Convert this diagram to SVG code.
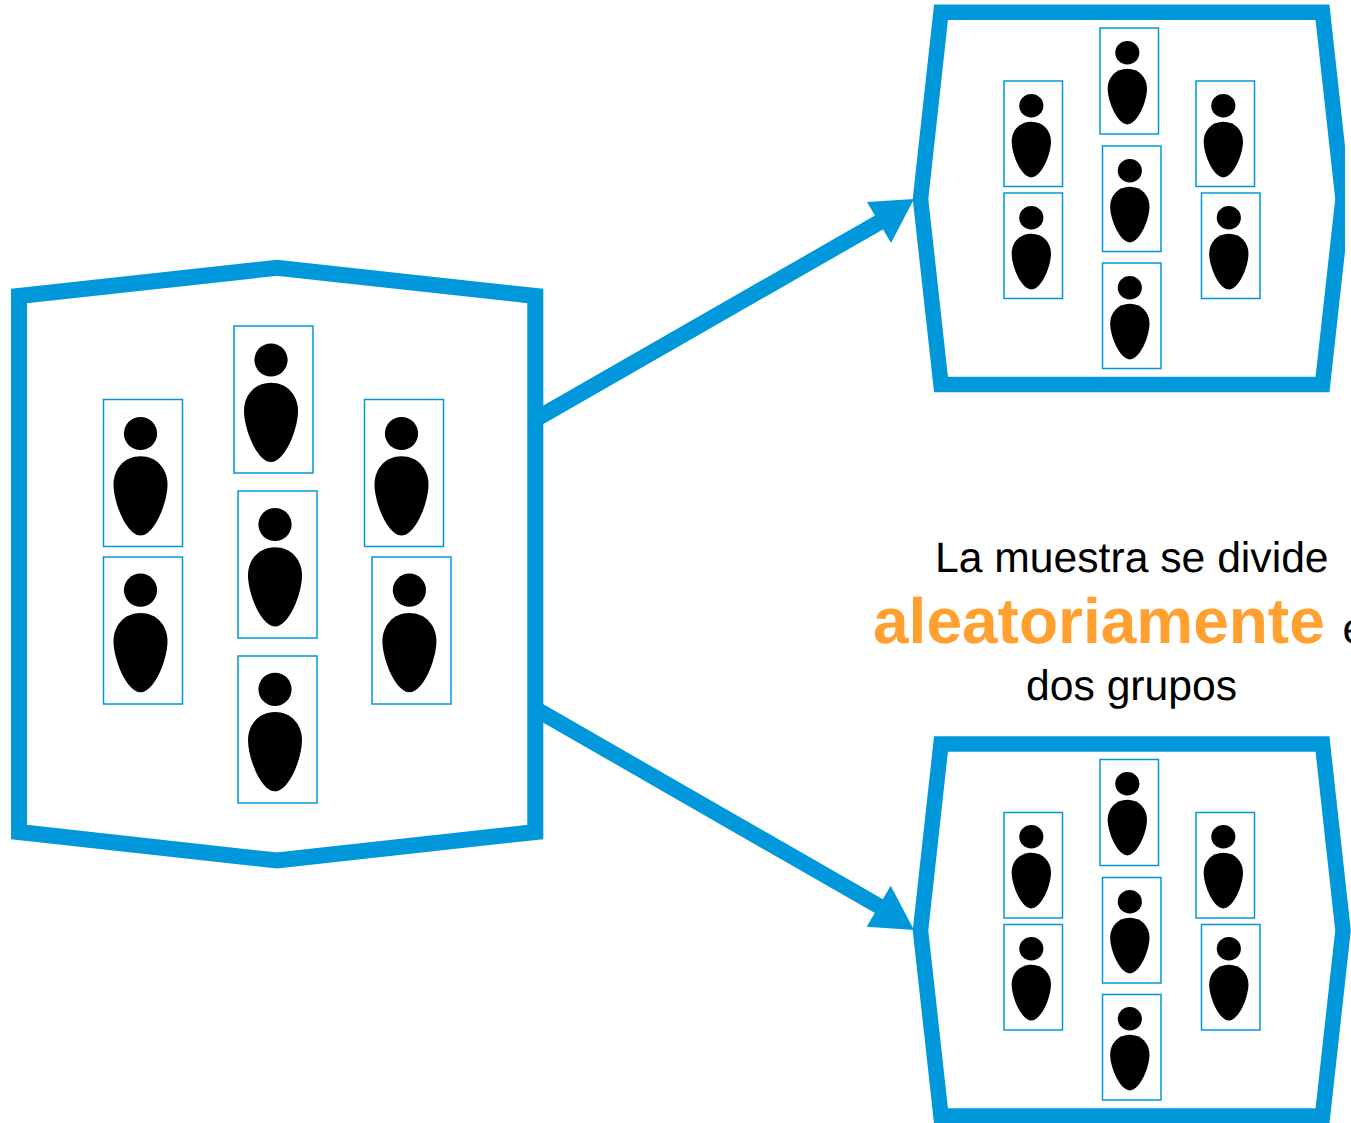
<svg xmlns="http://www.w3.org/2000/svg" width="1351" height="1123" viewBox="0 0 1351 1123">
<style>
.hex{fill:#fff;stroke:#0098DB;stroke-width:15.5;stroke-linejoin:miter;stroke-miterlimit:10}
.big{stroke-width:16}
.box{fill:#fff;stroke:#0098DB;stroke-width:1.5}
.shaft{fill:none;stroke:#0098DB;stroke-width:16}
.head{fill:#0098DB}
.t{font-family:"Liberation Sans",Arial,sans-serif;font-size:42.67px;fill:#000;text-rendering:geometricPrecision}
.b{font-weight:700;font-size:64px;fill:#FFA030}
.sp{font-weight:700;font-size:64px}
</style>
<defs>
<g id="p">
<circle cx="37" cy="34" r="16.6"/>
<path d="M37 56.7C53 56.7 64 69 64 85C64 103 51 136 37 136C23 136 10 103 10 85C10 69 21 56.7 37 56.7Z"/>
</g>
<g id="s"><use href="#p" transform="translate(.4 .9) scale(.7278 .7025)"/></g>
<clipPath id="edge"><rect x="0" y="0" width="1345" height="1123"/></clipPath>
</defs>
<rect width="1351" height="1123" fill="#fff"/>
<g id="connectors">
<path class="shaft" d="M536 419L885 219"/>
<polygon class="head" points="914,199 867,202 891,243"/>
<path class="shaft" d="M536 709.3L885 909.6"/>
<polygon class="head" points="914,930 866.7,926.7 890.7,885.7"/>
</g>
<g id="population">
<polygon class="hex big" points="19,296 277,267.8 535.3,296 535.3,832 277,860.5 19,832"/>
<g id="pop-1"><rect class="box" x="103.5" y="399.5" width="79" height="147"/><use href="#p" x="103.5" y="399.5"/></g>
<g id="pop-2"><rect class="box" x="234" y="326" width="79" height="147"/><use href="#p" x="234" y="326"/></g>
<g id="pop-3"><rect class="box" x="364.5" y="399.5" width="79" height="147"/><use href="#p" x="364.5" y="399.5"/></g>
<g id="pop-4"><rect class="box" x="103.5" y="557" width="79" height="147"/><use href="#p" x="103.5" y="556.2"/></g>
<g id="pop-5"><rect class="box" x="238" y="491" width="79" height="147"/><use href="#p" x="238" y="490.5"/></g>
<g id="pop-6"><rect class="box" x="372" y="557" width="79" height="147"/><use href="#p" x="372.4" y="556.2"/></g>
<g id="pop-7"><rect class="box" x="238" y="656" width="79" height="147"/><use href="#p" x="238" y="655.3"/></g>
</g>
<g id="group-a">
<polygon class="hex" clip-path="url(#edge)" points="941,12.3 1322.5,12.3 1343,199 1322.5,384.5 941,384.5 920.5,199"/>
<g id="a-1"><rect class="box" x="1004" y="81" width="58.5" height="105.5"/><use href="#s" x="1004" y="81"/></g>
<g id="a-2"><rect class="box" x="1100" y="28" width="58.5" height="106"/><use href="#s" x="1100" y="28"/></g>
<g id="a-3"><rect class="box" x="1196" y="81" width="58.5" height="105.5"/><use href="#s" x="1196" y="81"/></g>
<g id="a-4"><rect class="box" x="1004" y="193" width="58.5" height="105.5"/><use href="#s" x="1004" y="193"/></g>
<g id="a-5"><rect class="box" x="1102.5" y="146" width="58.5" height="105.5"/><use href="#s" x="1102.5" y="146"/></g>
<g id="a-6"><rect class="box" x="1201.5" y="193" width="58.5" height="105.5"/><use href="#s" x="1201.5" y="193"/></g>
<g id="a-7"><rect class="box" x="1102.5" y="263" width="58.5" height="105.5"/><use href="#s" x="1102.5" y="263"/></g>
</g>
<g id="group-b">
<polygon class="hex" points="941,744 1322.5,744 1343,930.5 1322.5,1116 941,1116 920.5,930.5"/>
<g id="b-1"><rect class="box" x="1004" y="812.5" width="58.5" height="105.5"/><use href="#s" x="1004" y="812"/></g>
<g id="b-2"><rect class="box" x="1100" y="759.5" width="58.5" height="106"/><use href="#s" x="1100" y="759"/></g>
<g id="b-3"><rect class="box" x="1196" y="812.5" width="58.5" height="105.5"/><use href="#s" x="1196" y="812"/></g>
<g id="b-4"><rect class="box" x="1004" y="924.5" width="58.5" height="105.5"/><use href="#s" x="1004" y="924"/></g>
<g id="b-5"><rect class="box" x="1102.5" y="877.5" width="58.5" height="105.5"/><use href="#s" x="1102.5" y="877"/></g>
<g id="b-6"><rect class="box" x="1201.5" y="924.5" width="58.5" height="105.5"/><use href="#s" x="1201.5" y="924"/></g>
<g id="b-7"><rect class="box" x="1102.5" y="994.5" width="58.5" height="105.5"/><use href="#s" x="1102.5" y="994"/></g>
</g>
<g id="caption">
<text class="t" x="935" y="572">La muestra se divide</text>
<text class="t" x="873" y="643"><tspan class="b">aleatoriamente</tspan><tspan class="sp"> </tspan>en</text>
<text class="t" x="1026" y="700">dos grupos</text>
</g>
</svg>
